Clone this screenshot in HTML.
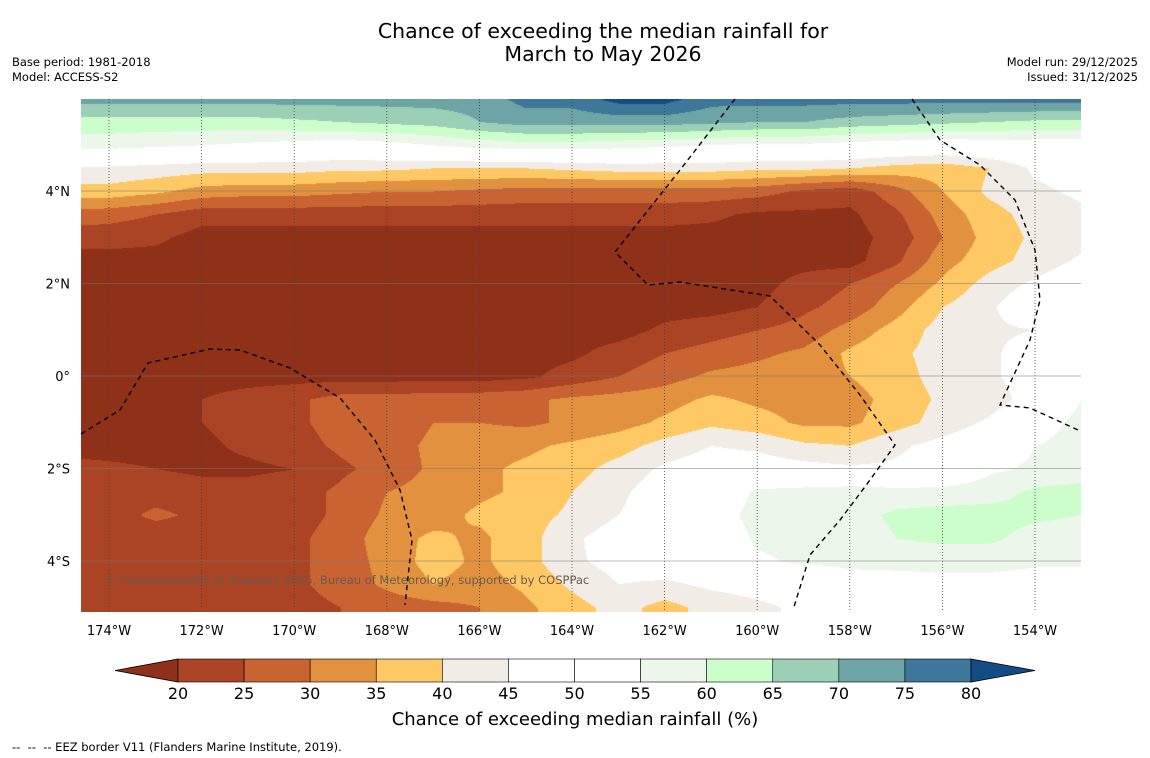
<!DOCTYPE html>
<html><head><meta charset="utf-8"><style>
body{margin:0;background:#fff;font-family:"DejaVu Sans",sans-serif;}
#wrap{position:relative;width:1150px;height:758px;overflow:hidden;background:#fff;}
.t{position:absolute;white-space:nowrap;color:#000;}
</style></head><body>
<div id="wrap">
<div class="t" style="left:0;width:1206px;text-align:center;top:20px;font-size:20.5px;line-height:23px;">Chance of exceeding the median rainfall for<br>March to May 2026</div>
<div class="t" style="left:12px;top:55px;font-size:11.5px;line-height:15px;">Base period: 1981-2018<br>Model: ACCESS-S2</div>
<div class="t" style="right:12px;top:55px;font-size:11.5px;line-height:15px;text-align:right;">Model run: 29/12/2025<br>Issued: 31/12/2025</div>
<canvas id="map" width="1000" height="513" style="position:absolute;left:81px;top:99px;"></canvas>
<svg id="ov" width="1150" height="758" style="position:absolute;left:0;top:0;"></svg>
<div class="t" style="left:0;width:1150px;text-align:center;top:709px;font-size:18px;">Chance of exceeding median rainfall (%)</div>
<div class="t" style="left:12px;top:740px;font-size:11.5px;">--&nbsp; --&nbsp; -- EEZ border V11 (Flanders Marine Institute, 2019).</div>
</div>
<script>
const lons=[-175,-174,-173,-172,-171,-170,-169,-168,-167,-166,-165,-164,-163,-162,-161,-160,-159,-158,-157,-156,-155,-154,-153];
const lats=[6,5.5,5,4.5,4,3.5,3,2.5,2,1.5,1,0.5,0,-0.5,-1,-1.5,-2,-2.5,-3,-3.5,-4,-4.5,-5,-5.5];
const r6=[72,72,72,72,72,72,72,72,72,72,77,77,82,82,77,77,77,77,77,77,77,77,77];
const r55=[63,63,63,63,63,64,65,66,67,70,72,72,72,72,71,70,70,68,67,66,65,64,64];
const r5=[57,57,56,55,54,53,52,53,55,57,58,58,57,56,55,54,54,53,52,51,52,52,52];
const r45=[44,44,43,42,42,42,41,41,40,40,40,41,42,42,42,41,41,40,38,37,40,46,47];
const r4=[38,38,36,33,32,32,31,30,30,29,28,28,28,28,28,27,24,22,28,35,41,44,46];
const r35=[28,27,25,22,22,22,22,22,22,22,22,22,22,22,21,19,19,19,24,32,38,42,44];
const r3=[22,22,21,18,18,18,18,18,18,18,18,18,18,18,18,18,18,18,22,30,37,41,43];
const r25=[18,18,18,18,18,18,18,18,18,18,18,18,18,18,18,18,18,18,24,33,38,42,46];
const r2=[18,18,18,18,18,18,18,18,18,18,18,18,18,18,18,18,22,25,30,36,42,46,50];
const r15=[18,18,18,18,18,18,18,18,18,18,18,18,18,18,18,20,24,27,33,40,44,50,50];
const r1=[18,18,18,18,18,18,18,18,18,18,18,18,18,21,23,25,27,32,37,42,44,45,47];
const r05=[18,18,18,18,18,18,18,18,18,18,18,19,22,25,27,29,31,36,39,42,44,48,50];
const r0=[18,18,18,18,18,18,18,18,18,18,19,22,25,28,31,32,33,35,38,42,44,48,52];
const rm05=[18,18,18,20,22,24,27,27,28,28,29,31,32,33,36,34,33,33,37,41,42,48,55];
const rm1=[18,18,18,20,22,24,27,27,30,30,29,31,33,36,39,37,34,34,38,42,46,52,57];
const rm15=[18,18,18,19,21,23,26,28,31,33,34,36,38,42,45,44,41,40,44,47,50,55,57];
const rm2=[22,21,20,19,19,20,24,27,31,34,36,38,42,46,48,48,47,46,46,48,54,56,57];
const rm25=[22,22,23,22,22,23,26,30,32,34,36,40,44,48,50,56,57,58,57,57,58,61,62];
const rm3=[22,23,26,24,22,23,26,31,33,36,38,41,45,48,52,57,57,58,61,62,62,61,60];
const rm35=[22,22,22,22,23,24,27,33,36,34,38,44,48,50,50,56,57,57,60,61,61,58,57];
const rm4=[22,22,23,23,23,24,27,32,37,34,38,44,47,49,48,54,56,57,57,57,57,56,56];
const rm45=[22,22,23,23,24,24,27,31,35,33,36,41,45,44,46,47,47,51,52,53,53,52,52];
const rm5=[22,22,23,23,23,23,25,27,28,30,34,38,42,38,42,44,46,47,48,50,50,50,50];
const rm55=[22,22,23,23,23,23,25,27,28,30,34,38,42,38,42,44,46,47,48,50,50,50,50];
const grid=[r6,r55,r5,r45,r4,r35,r3,r25,r2,r15,r1,r05,r0,rm05,rm1,rm15,rm2,rm25,rm3,rm35,rm4,rm45,rm5,rm55];
const levels=[20,25,30,35,40,45,50,55,60,65,70,75,80];
const binColors=["#8f3018","#ab4424","#c96432","#e2923f","#fec965","#f1ece6","#ffffff","#ffffff","#ecf6ea","#ccfecb","#9bcfb6","#6ea4a6","#3e779a","#134b85"];
const tickLabels=["20","25","30","35","40","45","50","55","60","65","70","75","80"];
const lonTicks=[-174,-172,-170,-168,-166,-164,-162,-160,-158,-156,-154];
const latTicks=[4,2,0,-2,-4];

const X0=81,Y0=99,W=1000,H=513;
function xOf(lon){return 109+(lon+174)*46.3;}
function yOf(lat){return 376-lat*46.25;}
function lonOf(x){return (x-109)/46.3-174;}
function latOf(y){return (376-y)/46.25;}
function hex(c){return [parseInt(c.substr(1,2),16),parseInt(c.substr(3,2),16),parseInt(c.substr(5,2),16)];}
const rgb=binColors.map(hex);
function binOf(v){let i=0;while(i<levels.length&&v>=levels[i])i++;return i;}
function val(lon,lat){
  let fi=(lon-lons[0])/(lons[1]-lons[0]);
  fi=Math.max(0,Math.min(lons.length-1.0001,fi));
  let fj=(lats[0]-lat)/(lats[0]-lats[1]);
  fj=Math.max(0,Math.min(lats.length-1.0001,fj));
  const i=Math.floor(fi),j=Math.floor(fj),a=fi-i,b=fj-j;
  const g=grid;
  return g[j][i]*(1-a)*(1-b)+g[j][i+1]*a*(1-b)+g[j+1][i]*(1-a)*b+g[j+1][i+1]*a*b;
}
const cv=document.getElementById('map');const ctx=cv.getContext('2d');
const img=ctx.createImageData(W,H);
for(let py=0;py<H;py++){const lat=latOf(py+Y0);
  for(let px=0;px<W;px++){const v=val(lonOf(px+X0),lat);const c=rgb[binOf(v)];const k=(py*W+px)*4;
    img.data[k]=c[0];img.data[k+1]=c[1];img.data[k+2]=c[2];img.data[k+3]=255;}}
ctx.putImageData(img,0,0);

const NS='http://www.w3.org/2000/svg';const ov=document.getElementById('ov');
function mk(tag,attrs,parent){const e=document.createElementNS(NS,tag);for(const k in attrs)e.setAttribute(k,attrs[k]);(parent||ov).appendChild(e);return e;}
lonTicks.forEach(l=>{const x=xOf(l);
  const ln=mk('line',{x1:x,y1:Y0,x2:x,y2:Y0+H,stroke:'#444','stroke-width':0.8,'stroke-dasharray':'1,2'});
  
  
  const t=mk('text',{x:x,y:635,'font-size':13,'text-anchor':'middle','font-family':'DejaVu Sans'});
  t.textContent=Math.abs(l)+'°W';
  
  
});
latTicks.forEach(l=>{const y=yOf(l);
  const ln=mk('line',{x1:X0,y1:y,x2:X0+W,y2:y,stroke:'#777','stroke-width':0.6});
  
  
  const t=mk('text',{x:70,y:y+5,'font-size':13,'text-anchor':'end','font-family':'DejaVu Sans'});
  t.textContent=l===0?'0°':(Math.abs(l)+'°'+(l>0?'N':'S'));
  
  
});
const eez=[[[735,99],[680,170],[615,252],[648,285],[680,282],[770,296],[820,345],[860,395],[895,445],[870,480],[840,520],[810,555],[793,610]],
[[81,434],[120,410],[148,363],[210,349],[240,350],[290,368],[340,398],[375,440],[400,490],[412,540],[405,605]],
[[912,99],[940,140],[980,165],[1015,200],[1035,250],[1040,300],[1030,340],[1000,405],[1030,408],[1078,430]]];
eez.forEach(p=>{const e=mk('polyline',{points:p.map(q=>q.join(',')).join(' '),fill:'none',stroke:'#000','stroke-width':1.4,'stroke-dasharray':'5,4'});
  
  });
const cp=mk('text',{x:105,y:584,'font-size':11.5,fill:'#6a5a50','font-family':'DejaVu Sans'});
cp.textContent='© Commonwealth of Australia 2025, Bureau of Meteorology, supported by COSPPac';


const cb0=178,cb1=971,cy0=659,cy1=682,bw=(cb1-cb0)/(levels.length-1);
const lt=mk('polygon',{points:`115,670.5 ${cb0},${cy0} ${cb0},${cy1}`,fill:binColors[0],stroke:'#000','stroke-width':0.8});


for(let i=0;i<levels.length-1;i++){const r=mk('rect',{x:cb0+i*bw,y:cy0,width:bw,height:cy1-cy0,fill:binColors[i+1],stroke:'#000','stroke-width':0.6});
  
  }
const rt=mk('polygon',{points:`${cb1},${cy0} 1035,670.5 ${cb1},${cy1}`,fill:binColors[binColors.length-1],stroke:'#000','stroke-width':0.8});


tickLabels.forEach((s,i)=>{const t=mk('text',{x:cb0+i*bw,y:699,'font-size':16,'text-anchor':'middle','font-family':'DejaVu Sans'});
  t.textContent=s;
  
  });
</script>
</body></html>
